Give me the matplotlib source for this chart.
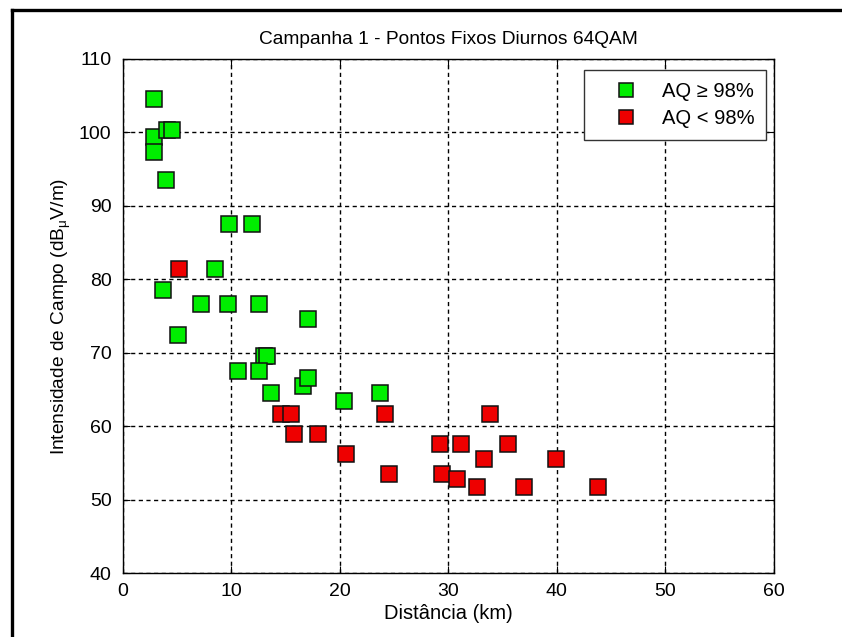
import matplotlib
matplotlib.use('Agg')
import matplotlib.pyplot as plt
from matplotlib.lines import Line2D

plt.rcParams['font.family'] = ['Liberation Sans', 'DejaVu Sans']
plt.rcParams['mathtext.fontset'] = 'custom'
plt.rcParams['mathtext.rm'] = 'Liberation Sans'

# pontos com AQ >= 98%
dist_ok = [2.9, 2.9, 2.9, 4.1, 4.5, 4.0, 9.8, 11.9, 8.5, 3.7, 7.2, 9.7, 12.6,
           17.1, 5.1, 13.0, 13.3, 10.6, 12.6, 13.7, 16.6, 17.1, 20.4, 23.7]
campo_ok = [104.5, 99.4, 97.4, 100.4, 100.4, 93.5, 87.6, 87.6, 81.4, 78.6, 76.6, 76.6, 76.6,
            74.6, 72.5, 69.6, 69.6, 67.6, 67.6, 64.5, 65.5, 66.6, 63.5, 64.5]

# pontos com AQ < 98%
dist_falha = [5.2, 14.6, 15.5, 15.8, 18.0, 20.6, 24.2, 24.5, 29.2, 31.2, 29.4,
              30.8, 32.6, 33.3, 33.8, 35.5, 37.0, 39.9, 43.8]
campo_falha = [81.4, 61.7, 61.7, 59.0, 59.0, 56.2, 61.7, 53.5, 57.6, 57.6, 53.5,
               52.8, 51.7, 55.6, 61.7, 57.6, 51.7, 55.6, 51.7]

fig = plt.figure(figsize=(8.42, 6.37), dpi=100)
ax = fig.add_axes([0.1457, 0.1, 0.9193 - 0.1457, 0.9074 - 0.1])

ax.plot(dist_ok, campo_ok, 's', ms=11, mfc='#00ee00', mec='#111111', mew=1.1, zorder=3)
ax.plot(dist_falha, campo_falha, 's', ms=11, mfc='#ee0000', mec='#111111', mew=1.1, zorder=3)

ax.set_xlim(0, 60)
ax.set_ylim(40, 110)
ax.set_xticks(range(0, 61, 10))
ax.set_yticks(range(40, 111, 10))
ax.grid(True, color='black', linestyle=(0, (3, 2.5)), linewidth=1.0)
ax.set_axisbelow(True)
ax.tick_params(direction='in', length=5, top=True, right=True, labelsize=14)
ax.tick_params(axis='x', pad=7)
ax.tick_params(axis='y', pad=8)
for s in ax.spines.values():
    s.set_linewidth(1.0)

ax.set_title('Campanha 1 - Pontos Fixos Diurnos 64QAM', fontsize=13.8, pad=11)
ax.set_xlabel('Distância (km)', fontsize=14.5, labelpad=3)
ax.set_ylabel('Intensidade de Campo (dB$_{\\mathrm{μ}}$V/m)', fontsize=13.8, labelpad=4)

handles = [Line2D([], [], ls='', marker='s', ms=10, mfc='#00ee00', mec='#111111', mew=1.1),
           Line2D([], [], ls='', marker='s', ms=10, mfc='#ee0000', mec='#111111', mew=1.1)]
leg = ax.legend(handles, ['AQ \u2265 98%', 'AQ < 98%'], loc='upper right', fontsize=14.5,
                bbox_to_anchor=(0.988, 0.9786), borderaxespad=0, frameon=True,
                fancybox=False, edgecolor='#333333', framealpha=1, handletextpad=0.25,
                borderpad=0.6, labelspacing=0.4, handlelength=2.98)
leg.get_frame().set_linewidth(1.0)

# moldura externa
fig.add_artist(Line2D([12 / 842, 12 / 842], [0, 1 - 10 / 637], color='black', lw=2.4,
                      transform=fig.transFigure))
fig.add_artist(Line2D([12 / 842, 1], [1 - 10 / 637, 1 - 10 / 637], color='black', lw=2.4,
                      transform=fig.transFigure))

fig.savefig('out.png', dpi=100)
